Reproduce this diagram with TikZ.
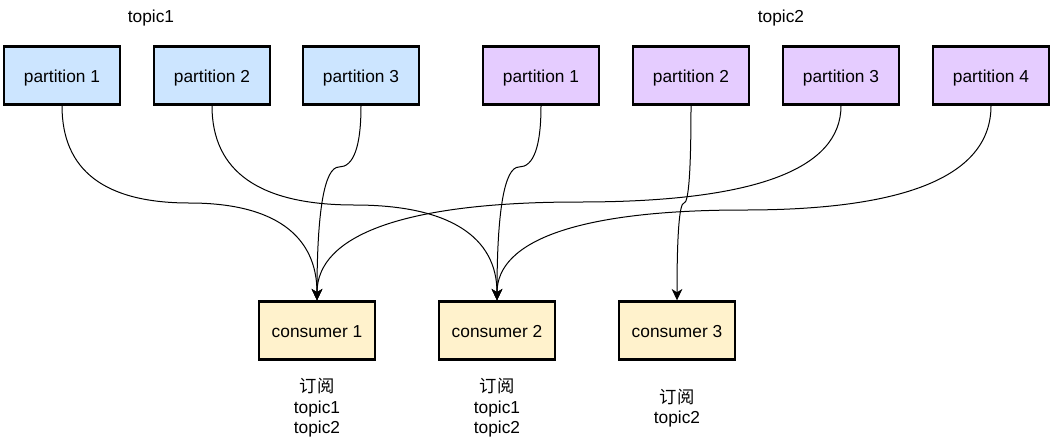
\documentclass[tikz,border=0pt]{standalone}
\usepackage{fontspec}
\setmainfont{Liberation Sans}
\newfontfamily\cjk{Noto Sans CJK SC}
\usetikzlibrary{arrows.meta}
\definecolor{topicblue}{HTML}{CCE5FF}
\definecolor{topicpurple}{HTML}{E5CCFF}
\definecolor{consyellow}{HTML}{FFF2CC}

\begin{document}
\begin{tikzpicture}[x=0.75pt,y=-0.75pt,
    font=\fontsize{13}{15.4}\selectfont,
    box/.style={draw=black,line width=1.8pt,minimum width=87pt,minimum height=43.5pt,
      inner sep=0pt,text height=11pt,text depth=0pt},
    partA/.style={box,fill=topicblue},
    partB/.style={box,fill=topicpurple},
    cons/.style={box,fill=consyellow},
    link/.style={line width=0.75pt,-{Stealth[length=8.5pt,width=8pt,inset=2.5pt]}}]
  \useasboundingbox (0,0) rectangle (1053,440);

  % topics
  \node (tp1) at (151,18) {topic1};
  \node (tp2) at (781,18) {topic2};

  \node[partA] (t1p1) at (62,75.5) {partition 1};
  \node[partA] (t1p2) at (212,75.5) {partition 2};
  \node[partA] (t1p3) at (361,75.5) {partition 3};

  \node[partB] (t2p1) at (541,75.5) {partition 1};
  \node[partB] (t2p2) at (691,75.5) {partition 2};
  \node[partB] (t2p3) at (841,75.5) {partition 3};
  \node[partB] (t2p4) at (991,75.5) {partition 4};

  % consumers
  \node[cons] (c1) at (317,330.5) {consumer 1};
  \node[cons] (c2) at (497,330.5) {consumer 2};
  \node[cons] (c3) at (677,330.5) {consumer 3};

  \node[align=center] (s1) at (317,408) {{\cjk 订阅}\\topic1\\topic2};
  \node[align=center] (s2) at (497,408) {{\cjk 订阅}\\topic1\\topic2};
  \node[align=center] (s3) at (677,408) {{\cjk 订阅}\\topic2};

  % topic1 -> consumers
  \draw[link] (t1p1.south) .. controls +(0,64.7) and (104.5,203) .. (189.5,203)
    .. controls (274.5,203) and +(0,-64.7) .. (c1.north);
  \draw[link] (t1p2.south) .. controls +(0,66) and (259.5,205) .. (354.5,205)
    .. controls (449.5,205) and +(0,-63.3) .. (c2.north);
  \draw[link] (t1p3.south) .. controls +(0,40.7) and (353.7,167) .. (339,167)
    .. controls (324.3,167) and +(0,-88.7) .. (c1.north);

  % topic2 -> consumers
  \draw[link] (t2p1.south) .. controls +(0,40.7) and (533.7,167) .. (519,167)
    .. controls (504.3,167) and +(0,-88.7) .. (c2.north);
  \draw[link] (t2p2.south) .. controls +(0,64.7) and (688.7,203) .. (684,203)
    .. controls (679.3,203) and +(0,-64.7) .. (c3.north);
  \draw[link] (t2p3.south) .. controls +(0,64) and (753.7,202) .. (579,202)
    .. controls (404.3,202) and +(0,-65.3) .. (c1.north);
  \draw[link] (t2p4.south) .. controls +(0,69.3) and (908.3,210) .. (744,210)
    .. controls (579.3,210) and +(0,-60) .. (c2.north);
\end{tikzpicture}
\end{document}
